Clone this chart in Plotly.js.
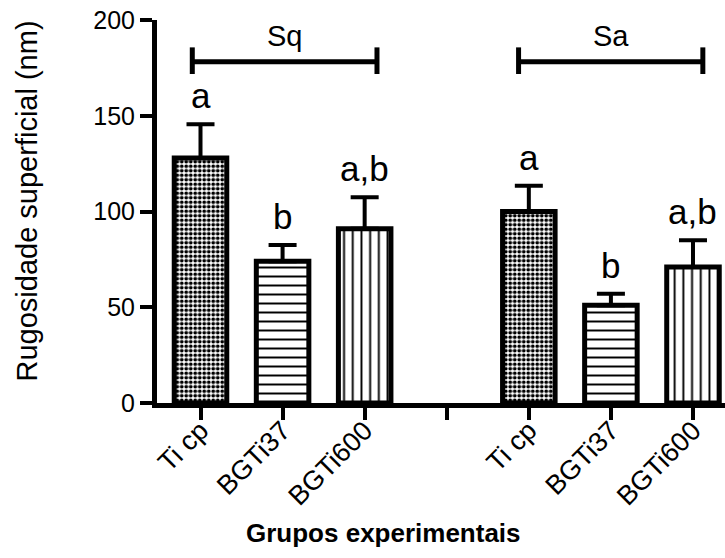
<!DOCTYPE html>
<html>
<head>
<meta charset="utf-8">
<script src="https://cdn.plot.ly/plotly-3.0.1.min.js"></script>
<style>html,body{margin:0;padding:0;background:#fff;}#chart{width:725px;height:558px;}</style>
</head>
<body>
<div id="chart"></div>
<script>
// ---- data ----
const groups = ['Sq', 'Sa'];
const materials = ['Ti cp', 'BGTi37', 'BGTi600'];
const sqMeans = [128, 74, 91];
const sqErr = [17.5, 8.5, 16.5];
const saMeans = [100, 51, 71];
const saErr = [13.5, 6, 14];
const sqLetters = ['a', 'b', 'a,b'];
const saLetters = ['a', 'b', 'a,b'];

// ---- styling (not data) ----
const FONT = 'Arial, "Liberation Sans", sans-serif';
const patterns = [
  {shape: '.', size: 4.5, solidity: 0.55, fgcolor: '#000', bgcolor: '#fff', fillmode: 'replace'},
  {shape: '-', size: 9, solidity: 0.22, fgcolor: '#000', bgcolor: '#fff', fillmode: 'replace'},
  {shape: '|', size: 8.7, solidity: 0.22, fgcolor: '#000', bgcolor: '#fff', fillmode: 'replace'}
];
const groupOffset = [0, 4]; // Sq slots 0-2, gap at 3, Sa slots 4-6

const traces = materials.map((m, i) => ({
  type: 'bar',
  name: m,
  x: [groupOffset[0] + i, groupOffset[1] + i],
  y: [sqMeans[i], saMeans[i]],
  width: 0.64,
  marker: {color: '#fff', pattern: patterns[i], line: {color: '#000', width: 5}},
  error_y: {type: 'data', symmetric: false, array: [sqErr[i], saErr[i]], arrayminus: [0, 0],
            color: '#000', thickness: 4, width: 14},
  cliponaxis: false,
  hoverinfo: 'none'
}));

const tickvals = [], ticktext = [];
for (let s = 0; s < 7; s++) { tickvals.push(s); ticktext.push(''); }
materials.forEach((m, i) => { ticktext[groupOffset[0] + i] = m; ticktext[groupOffset[1] + i] = m; });

const annotations = [];
[[sqMeans, sqErr, sqLetters, 0], [saMeans, saErr, saLetters, 1]].forEach(([means, errs, lets, g]) => {
  means.forEach((v, i) => {
    annotations.push({x: groupOffset[g] + i, y: v + errs[i], xref: 'x', yref: 'y', text: lets[i],
      showarrow: false, yanchor: 'bottom', yshift: 7, font: {family: FONT, size: 35, color: '#000'}});
  });
});
// bracket labels
const bracketX = [[-0.1, 2.15], [3.875, 6.12]];
const bracketY = 178.2, bracketTickLo = 171.8, bracketTickHi = 185.7;
const shapes = [];
bracketX.forEach((b, g) => {
  shapes.push({type: 'line', xref: 'x', yref: 'y', x0: b[0], x1: b[1], y0: bracketY, y1: bracketY, line: {color: '#000', width: 5}});
  shapes.push({type: 'line', xref: 'x', yref: 'y', x0: b[0], x1: b[0], y0: bracketTickLo, y1: bracketTickHi, line: {color: '#000', width: 5}});
  shapes.push({type: 'line', xref: 'x', yref: 'y', x0: b[1], x1: b[1], y0: bracketTickLo, y1: bracketTickHi, line: {color: '#000', width: 5}});
  annotations.push({x: (b[0] + b[1]) / 2, y: bracketY, xref: 'x', yref: 'y', text: groups[g], showarrow: false,
    yanchor: 'bottom', yshift: 8, font: {family: FONT, size: 29, color: '#000'}});
});
// axis titles
annotations.push({x: 2.23, y: 0, xref: 'x', yref: 'paper', text: '<b>Grupos experimentais</b>', showarrow: false,
  yanchor: 'middle', yshift: -130, font: {family: FONT, size: 26, color: '#000'}});
annotations.push({x: 0, y: 0.5, xref: 'paper', yref: 'paper', text: 'Rugosidade superficial (nm)', showarrow: false,
  textangle: -90, xanchor: 'center', yanchor: 'middle', xshift: -131, yshift: 10, font: {family: FONT, size: 29, color: '#000'}});

const layout = {
  width: 725, height: 558,
  margin: {l: 157, r: 0, t: 19.5, b: 154.7, pad: 0},
  paper_bgcolor: '#fff', plot_bgcolor: '#fff',
  showlegend: false,
  barmode: 'overlay',
  font: {family: FONT, color: '#000'},
  xaxis: {range: [-0.53, 6.39], tickvals: tickvals, ticktext: ticktext, tickangle: -45,
    showline: true, linewidth: 5, linecolor: '#000', ticks: 'outside', ticklen: 12, tickwidth: 4, tickcolor: '#000',
    ticklabelstandoff: -16,
    showgrid: false, zeroline: false, tickfont: {family: FONT, size: 27, color: '#000'}, fixedrange: true},
  yaxis: {range: [0, 200], tickvals: [0, 50, 100, 150, 200], showline: true, linewidth: 5, linecolor: '#000',
    ticks: 'outside', ticklen: 12, tickwidth: 4, tickcolor: '#000', showgrid: false, zeroline: false,
    tickfont: {family: FONT, size: 25, color: '#000'}, fixedrange: true},
  shapes: shapes,
  annotations: annotations
};
Plotly.newPlot('chart', traces, layout, {displayModeBar: false, staticPlot: true});
</script>
</body>
</html>
